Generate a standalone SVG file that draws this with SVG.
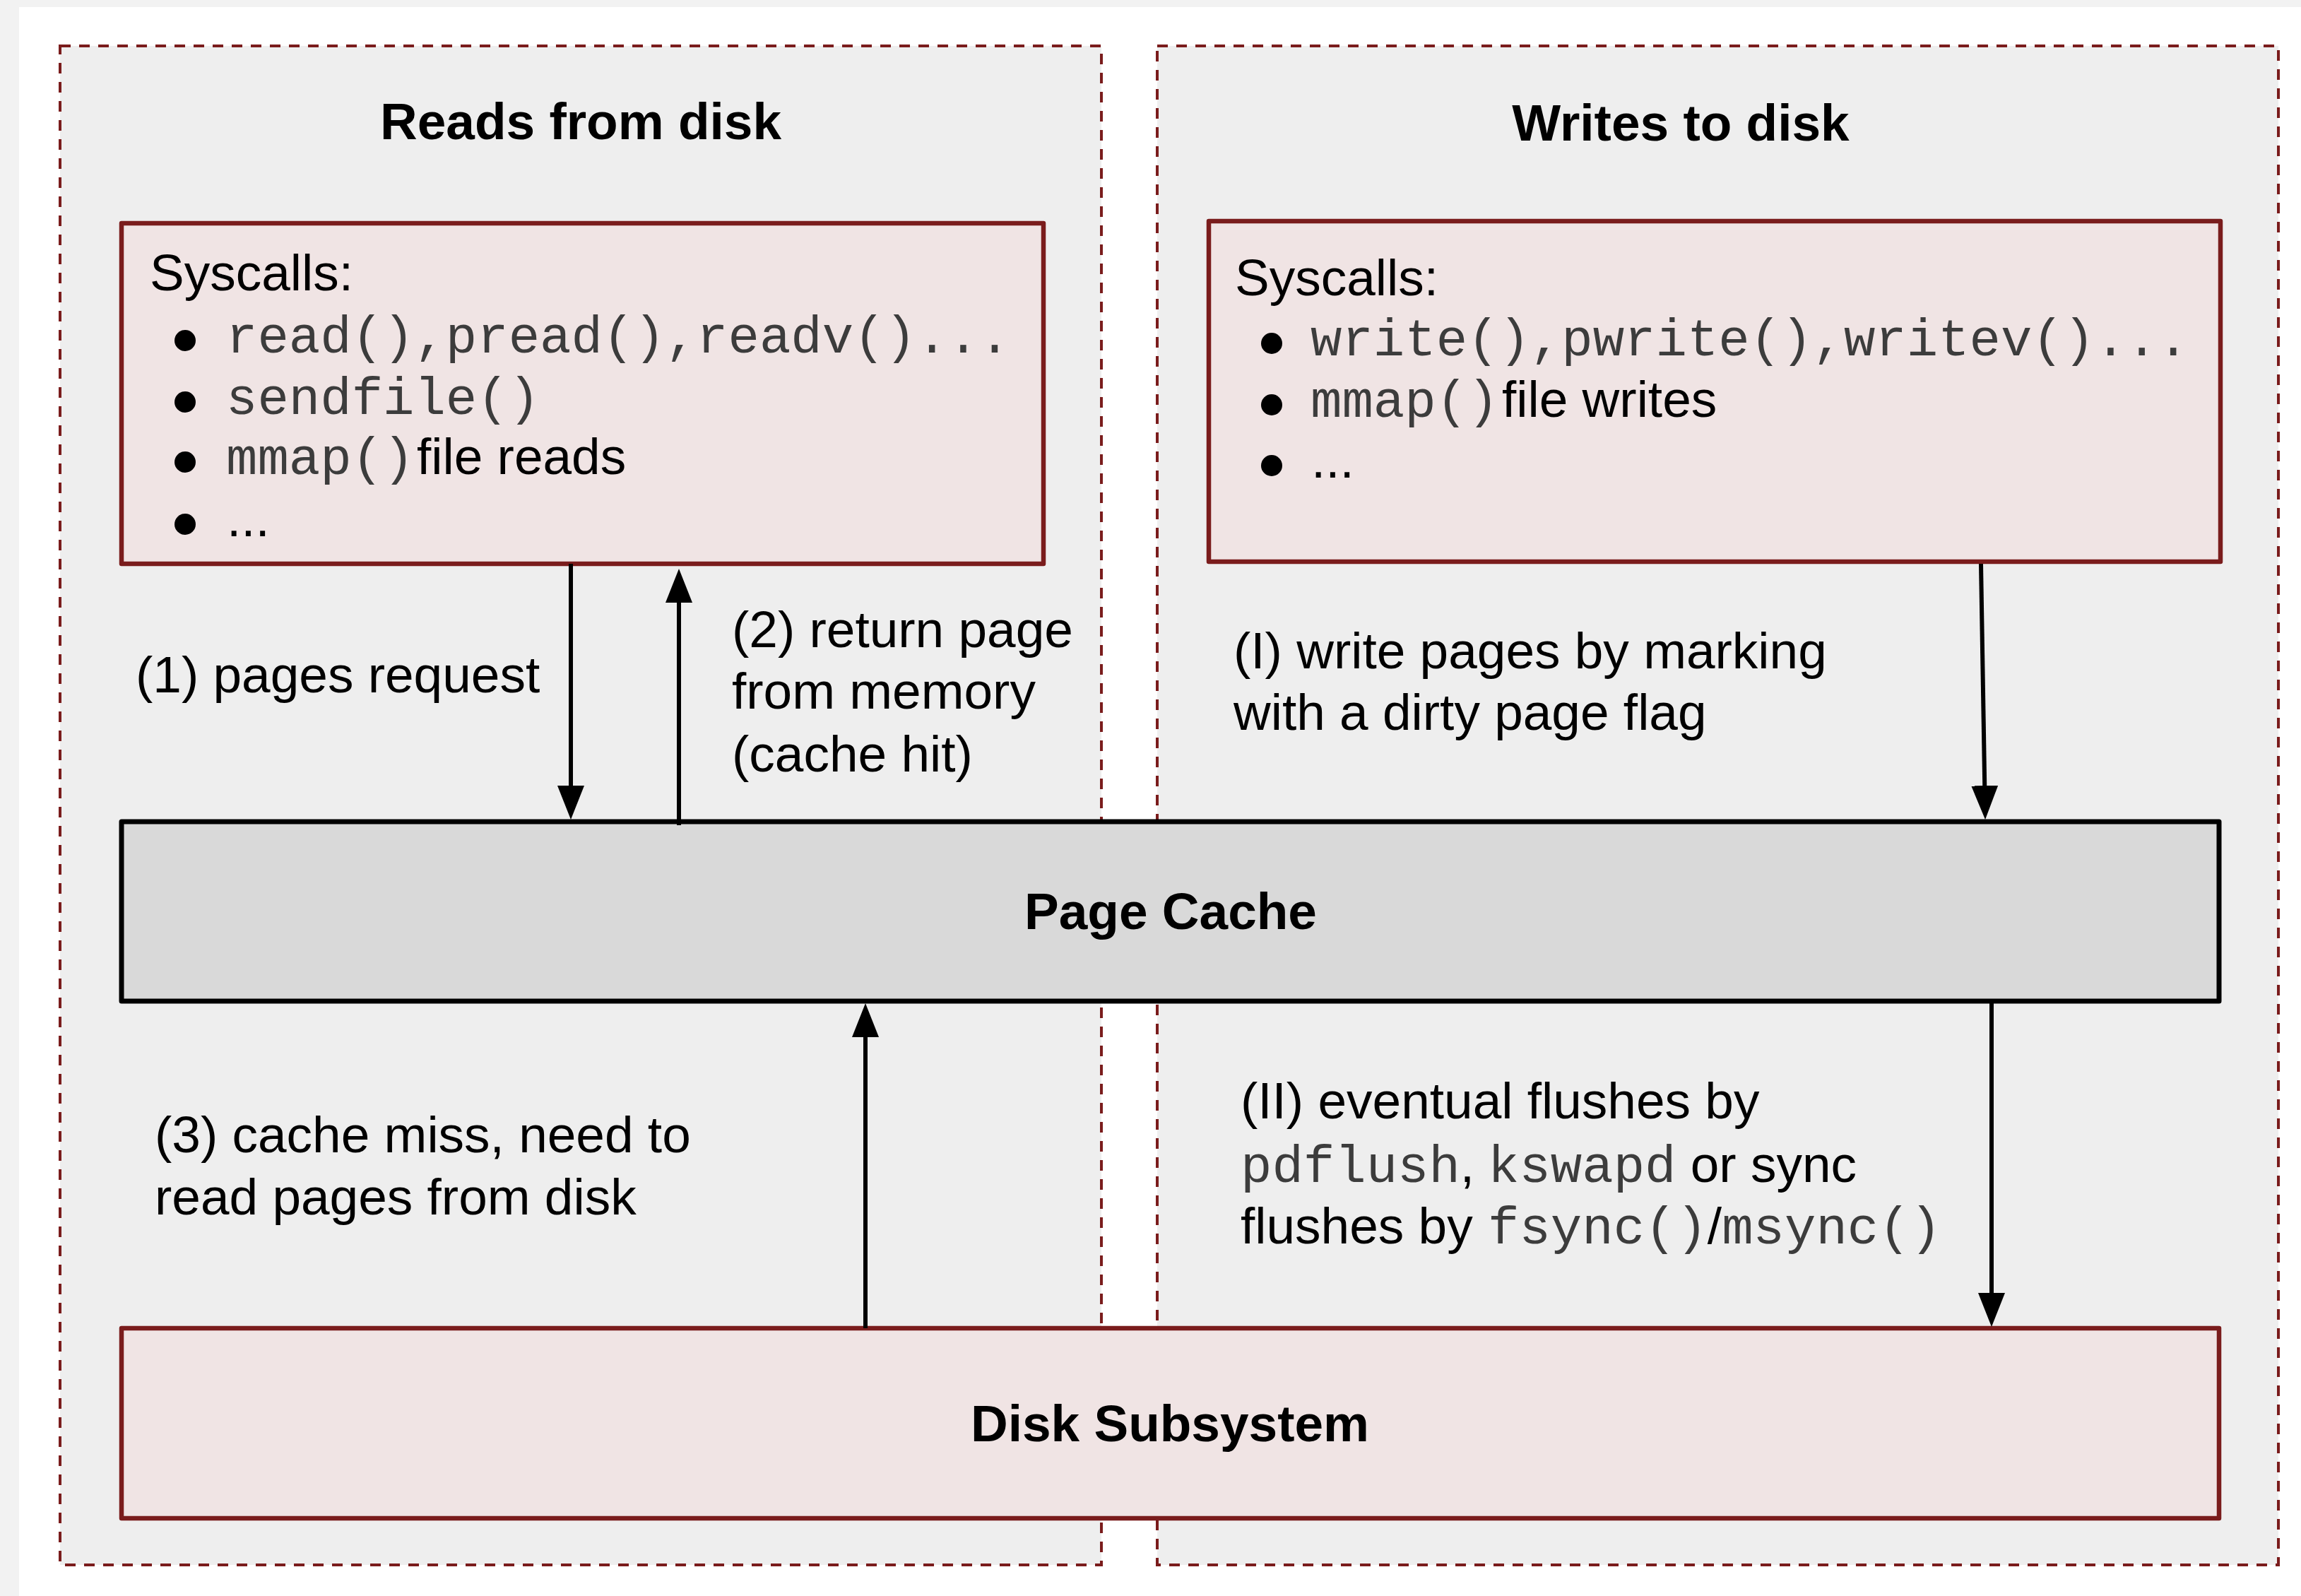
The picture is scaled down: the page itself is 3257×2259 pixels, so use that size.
<svg xmlns="http://www.w3.org/2000/svg" width="3257" height="2259" viewBox="0 0 3257 2259">
  <style>
    .panel { fill: #eeeeee; stroke: #7a1c1c; stroke-width: 4; stroke-dasharray: 15 12; }
    .box { fill: #f0e4e4; stroke: #7a1c1c; stroke-width: 6.5; stroke-linejoin: round; }
    .cache { fill: #d9d9d9; stroke: #000000; stroke-width: 7; stroke-linejoin: round; }
    .sans { font-family: "Liberation Sans", Arial, sans-serif; font-size: 73px; fill: #000000; }
    .bold { font-family: "Liberation Sans", Arial, sans-serif; font-size: 73px; font-weight: bold; fill: #000000; }
    .mono { font-family: "Liberation Mono", "Courier New", monospace; font-size: 74px; fill: #3c3c3c; }
    .bullet { fill: #000000; }
    .conn { stroke: #000000; stroke-width: 6; fill: none; marker-end: url(#arrow); }
  </style>
  <defs>
    <marker id="arrow" viewBox="0 0 48 38" refX="28" refY="19" markerWidth="48" markerHeight="38" markerUnits="userSpaceOnUse" orient="auto">
      <path d="M0,0 L48,19 L0,38 Z" fill="#000000"/>
    </marker>
  </defs>

  <!-- page background -->
  <rect x="0" y="0" width="3257" height="2259" fill="#ffffff"/>
  <rect x="0" y="0" width="3257" height="10" fill="#f2f2f2"/>
  <rect x="0" y="0" width="27" height="2259" fill="#f2f2f2"/>

  <!-- read path panel -->
  <g id="panel-reads">
    <rect class="panel" x="85" y="65" width="1474" height="2150"/>
    <text class="bold" x="822" y="197" text-anchor="middle">Reads from disk</text>
  </g>

  <!-- write path panel -->
  <g id="panel-writes">
    <rect class="panel" x="1638" y="65" width="1587" height="2150"/>
    <text class="bold" x="2379" y="199" text-anchor="middle">Writes to disk</text>
  </g>

  <!-- read syscalls -->
  <g id="read-syscalls">
    <rect class="box" x="172" y="316" width="1305" height="482"/>
    <text class="sans" x="212" y="411">Syscalls:</text>
    <circle class="bullet" cx="262" cy="482" r="15"/>
    <circle class="bullet" cx="262" cy="569" r="15"/>
    <circle class="bullet" cx="262" cy="654" r="15"/>
    <circle class="bullet" cx="262" cy="742" r="15"/>
    <text class="mono" x="320" y="499">read(),pread(),readv()...</text>
    <text class="mono" x="320" y="586">sendfile()</text>
    <text x="320" y="671"><tspan class="mono">mmap()</tspan><tspan class="sans" x="590">file reads</tspan></text>
    <text class="sans" x="321" y="759">...</text>
  </g>

  <!-- write syscalls -->
  <g id="write-syscalls">
    <rect class="box" x="1711" y="313" width="1432" height="482"/>
    <text class="sans" x="1748" y="418">Syscalls:</text>
    <circle class="bullet" cx="1800" cy="486" r="15"/>
    <circle class="bullet" cx="1800" cy="573" r="15"/>
    <circle class="bullet" cx="1800" cy="659" r="15"/>
    <text class="mono" x="1855" y="503">write(),pwrite(),writev()...</text>
    <text x="1855" y="590"><tspan class="mono">mmap()</tspan><tspan class="sans" x="2126">file writes</tspan></text>
    <text class="sans" x="1856" y="676">...</text>
  </g>

  <!-- page cache -->
  <g id="page-cache">
    <rect class="cache" x="172" y="1163" width="2969" height="254"/>
    <text class="bold" x="1657" y="1315" text-anchor="middle">Page Cache</text>
  </g>

  <!-- disk subsystem -->
  <g id="disk-subsystem">
    <rect class="box" x="172" y="1880" width="2969" height="269"/>
    <text class="bold" x="1656" y="2040" text-anchor="middle">Disk Subsystem</text>
  </g>

  <!-- connectors -->
  <g id="connectors">
    <line class="conn" x1="808" y1="798" x2="808" y2="1140"/>
    <line class="conn" x1="961" y1="1168" x2="961" y2="825"/>
    <line class="conn" x1="2804" y1="798" x2="2809.7" y2="1140"/>
    <line class="conn" x1="2819" y1="1417" x2="2819" y2="1858"/>
    <line class="conn" x1="1225" y1="1880" x2="1225" y2="1440"/>
  </g>

  <!-- connector labels -->
  <g id="labels">
    <text class="sans" x="192" y="980">(1) pages request</text>
    <text class="sans" x="1036" y="916">(2) return page</text>
    <text class="sans" x="1036" y="1003">from memory</text>
    <text class="sans" x="1036" y="1092">(cache hit)</text>
    <text class="sans" x="1746" y="946">(I) write pages by marking</text>
    <text class="sans" x="1746" y="1033">with a dirty page flag</text>
    <text class="sans" x="219" y="1631">(3) cache miss, need to</text>
    <text class="sans" x="219" y="1719">read pages from disk</text>
    <text class="sans" x="1756" y="1583">(II) eventual flushes by</text>
    <text x="1756" y="1673"><tspan class="mono">pdflush</tspan><tspan class="sans">, </tspan><tspan class="mono" x="2106">kswapd</tspan><tspan class="sans"> or sync</tspan></text>
    <text x="1756" y="1760"><tspan class="sans">flushes by </tspan><tspan class="mono" x="2106">fsync()</tspan><tspan class="sans">/</tspan><tspan class="mono">msync()</tspan></text>
  </g>
</svg>
